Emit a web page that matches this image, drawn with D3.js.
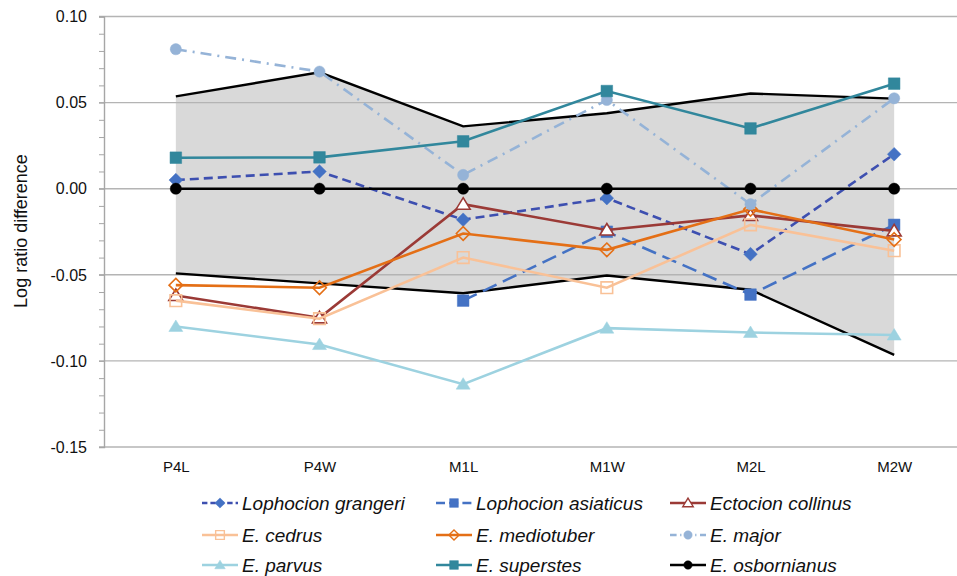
<!DOCTYPE html>
<html>
<head>
<meta charset="utf-8">
<script src="https://cdn.jsdelivr.net/npm/d3@7"></script>
<style>
  html, body { margin: 0; padding: 0; background: #fff; }
  svg { display: block; font-family: "Liberation Sans", Arial, sans-serif; }
</style>
</head>
<body>
<svg id="chart" width="957" height="576"></svg>
<script>
// Tooth measurements along the x axis
const categories = ["P4L", "P4W", "M1L", "M1W", "M2L", "M2W"];

// Log ratio differences per species
const lophocionGrangeri  = [0.005, 0.010, -0.018, -0.0055, -0.038, 0.020];
const lophocionAsiaticus = [null, null, -0.065, -0.025, -0.0615, -0.021];
const ectocionCollinus   = [-0.062, -0.075, -0.009, -0.024, -0.0155, -0.0245];
const eCedrus            = [-0.065, -0.0755, -0.040, -0.0575, -0.021, -0.036];
const eMediotuber        = [-0.056, -0.0575, -0.026, -0.0355, -0.012, -0.0295];
const eMajor             = [0.081, 0.068, 0.008, 0.0515, -0.009, 0.0525];
const eParvus            = [-0.080, -0.0905, -0.1135, -0.081, -0.0835, -0.085];
const eSuperstes         = [0.018, 0.0182, 0.0275, 0.0567, 0.035, 0.061];
const eOsbornianus       = [0, 0, 0, 0, 0, 0];

// Range of variation (shaded band)
const upperBound = [0.0536, 0.0676, 0.0362, 0.0438, 0.0553, 0.0523];
const lowerBound = [-0.0492, -0.055, -0.0607, -0.0504, -0.0587, -0.0965];

// Y axis ticks
const yTicks = [0.10, 0.05, 0.00, -0.05, -0.10, -0.15];

const seriesNames = ["Lophocion grangeri", "Lophocion asiaticus", "Ectocion collinus",
  "E. cedrus", "E. mediotuber", "E. major", "E. parvus", "E. superstes", "E. osbornianus"];
const seriesValues = [lophocionGrangeri, lophocionAsiaticus, ectocionCollinus,
  eCedrus, eMediotuber, eMajor, eParvus, eSuperstes, eOsbornianus];

const styles = [
  { stroke: "#3d4fb0", dash: "9,5",          marker: "diamond",  mstroke: "#4472c4", mfill: "#4472c4" },
  { stroke: "#4472c4", dash: "15,7",         marker: "square",   mstroke: "#4472c4", mfill: "#4472c4" },
  { stroke: "#9b3a36", dash: null,           marker: "triangle", mstroke: "#9b3a36", mfill: "#ffffff" },
  { stroke: "#f9c197", dash: null,           marker: "square",   mstroke: "#f9c197", mfill: "none" },
  { stroke: "#e46f16", dash: null,           marker: "diamond",  mstroke: "#e46f16", mfill: "none" },
  { stroke: "#95b3d7", dash: "11,6,2,6",     marker: "circle",   mstroke: "#95b3d7", mfill: "#95b3d7" },
  { stroke: "#9dd2e0", dash: null,           marker: "triangle", mstroke: "#9dd2e0", mfill: "#9dd2e0" },
  { stroke: "#31879c", dash: null,           marker: "square",   mstroke: "#31879c", mfill: "#31879c" },
  { stroke: "#000000", dash: null,           marker: "circle",   mstroke: "#000000", mfill: "#000000" }
];

const svg = d3.select("#chart");

const x = d3.scalePoint().domain(categories).range([104, 966]).padding(0.5);
const y = d3.scaleLinear().domain([-0.15, 0.10]).range([447, 16.5]);

function markerPath(type, s) {
  const p = d3.path();
  if (type === "square") {
    const h = 5.8 * s;
    p.rect(-h, -h, 2 * h, 2 * h);
  } else if (type === "diamond") {
    const h = 6.8 * s;
    p.moveTo(0, -h); p.lineTo(h, 0); p.lineTo(0, h); p.lineTo(-h, 0); p.closePath();
  } else if (type === "triangle") {
    const w = 7 * s, t = 6.5 * s, b = 5 * s;
    p.moveTo(0, -t); p.lineTo(w, b); p.lineTo(-w, b); p.closePath();
  } else {
    p.arc(0, 0, 5.6 * s, 0, 2 * Math.PI);
  }
  return p.toString();
}

// shaded band between the upper and lower bounds
const band = categories.map((c, i) => ({ c, hi: upperBound[i], lo: lowerBound[i] }));
svg.append("path")
  .datum(band)
  .attr("fill", "#d9d9d9")
  .attr("d", d3.area().x(d => x(d.c)).y0(d => y(d.lo)).y1(d => y(d.hi)));

// gridlines
svg.append("g").selectAll("line").data(yTicks).join("line")
  .attr("x1", 99).attr("x2", 957)
  .attr("y1", d => y(d)).attr("y2", d => y(d))
  .attr("stroke", "#b4b4b4").attr("stroke-width", 1.4);

// y axis with minor ticks
const yAxis = svg.append("g").attr("transform", "translate(104,0)")
  .call(d3.axisLeft(y).tickValues(d3.range(-15, 11).map(v => v / 100)).tickSize(5).tickFormat(""));
yAxis.select(".domain").attr("stroke", "#a6a6a6").attr("stroke-width", 1.4);
yAxis.selectAll(".tick line").attr("stroke", "#a6a6a6").attr("stroke-width", 1);

const fmt = d3.format(".2f");
svg.append("g").selectAll("text").data(yTicks).join("text")
  .attr("x", 87).attr("y", d => y(d)).attr("dy", "0.36em")
  .attr("text-anchor", "end").attr("font-size", 16).attr("fill", "#111")
  .text(d => fmt(d).replace("\u2212", "-"));

// x axis labels
const xAxis = svg.append("g").attr("transform", "translate(0,447)")
  .call(d3.axisBottom(x).tickSize(0).tickPadding(0));
xAxis.select(".domain").remove();
xAxis.selectAll("text").attr("y", 25).attr("dy", 0)
  .attr("font-size", 15).attr("fill", "#111")
  .attr("font-family", "'Liberation Sans', Arial, sans-serif");

// axis title
svg.append("text")
  .attr("transform", "translate(27,231) rotate(-90)")
  .attr("text-anchor", "middle").attr("font-size", 18).attr("fill", "#111")
  .text("Log ratio difference");

// bound lines
const boundLine = d3.line().x((d, i) => x(categories[i])).y(d => y(d));
[upperBound, lowerBound].forEach(arr => {
  svg.append("path").attr("d", boundLine(arr))
    .attr("fill", "none").attr("stroke", "#000").attr("stroke-width", 2.4);
});

// species series
const line = d3.line()
  .defined(d => d.v !== null)
  .x(d => x(d.c)).y(d => y(d.v));

seriesValues.forEach((vals, k) => {
  const st = styles[k];
  const pts = categories.map((c, i) => ({ c, v: vals[i] }));
  const g = svg.append("g");
  g.append("path").datum(pts)
    .attr("d", line)
    .attr("fill", "none")
    .attr("stroke", st.stroke)
    .attr("stroke-width", 2.6)
    .attr("stroke-dasharray", st.dash);
  g.selectAll("path.m").data(pts.filter(d => d.v !== null)).join("path")
    .attr("class", "m")
    .attr("transform", d => `translate(${x(d.c)},${y(d.v)})`)
    .attr("d", markerPath(st.marker, 1))
    .attr("fill", st.mfill)
    .attr("stroke", st.mstroke)
    .attr("stroke-width", st.mfill === st.mstroke ? 0.5 : 1.6);
});

// legend
const legendCols = [202, 436, 670];
const legendRows = [503, 535, 565];
const legend = svg.append("g");
seriesNames.forEach((name, k) => {
  const st = styles[k];
  const lx = legendCols[k % 3], ly = legendRows[Math.floor(k / 3)];
  const g = legend.append("g").attr("transform", `translate(${lx},${ly})`);
  g.append("line").attr("x1", 0).attr("x2", 36).attr("y1", 0).attr("y2", 0)
    .attr("stroke", st.stroke).attr("stroke-width", 2.6)
    .attr("stroke-dasharray", st.dash ? st.dash.split(",").map(v => +v * 0.6).join(",") : null);
  g.append("path").attr("transform", "translate(18,0)")
    .attr("d", markerPath(st.marker, 0.75))
    .attr("fill", st.mfill).attr("stroke", st.mstroke)
    .attr("stroke-width", st.mfill === st.mstroke ? 0.5 : 1.4);
  g.append("text").attr("x", 40).attr("y", 0).attr("dy", "0.35em")
    .attr("font-size", 19).attr("font-style", "italic").attr("fill", "#111")
    .text(name);
});
</script>
</body>
</html>
